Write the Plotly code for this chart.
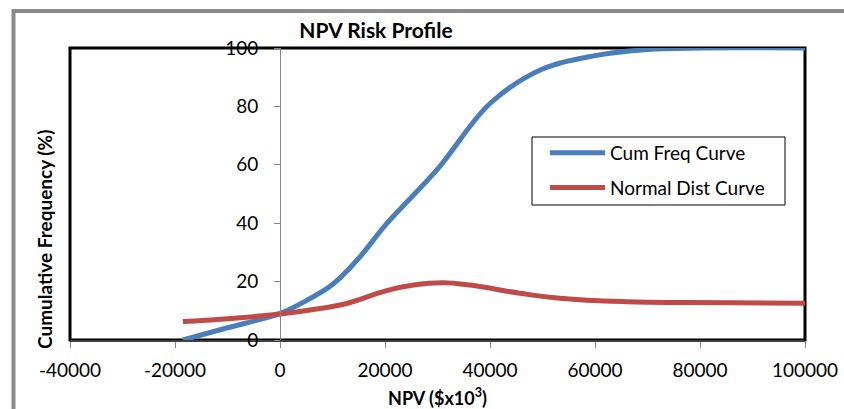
import plotly.graph_objects as go

# Data
npv_cum = [-18500, -10000, 0, 5000, 10000, 15000, 20000, 30000,
           40000, 50000, 60000, 70000, 80000, 100000]
cum_freq = [0, 4.2, 9.1, 13.5, 19, 28, 39.2, 58.5,
            81, 92.8, 97.4, 99.5, 100, 100]

npv_norm = [-18500, -10000, 0, 7600, 12700, 20300, 25400, 31100, 36200,
            45700, 53300, 66000, 78700, 100000]
norm_dist = [6.3, 7.3, 8.9, 10.8, 12.5, 16.9, 18.8, 19.6, 18.8,
             16.0, 14.3, 13.1, 12.8, 12.6]

x_ticks = [-40000, -20000, 0, 20000, 40000, 60000, 80000, 100000]
y_ticks = [0, 20, 40, 60, 80, 100]

FONT = "Lato"
BLUE = "#4a7ebb"
RED = "#be4b48"

fig = go.Figure()
fig.add_trace(go.Scatter(x=npv_cum, y=cum_freq, mode="lines", name="Cum Freq Curve",
                         line=dict(color=BLUE, width=5, shape="spline", smoothing=1.0),
                         legendgroup="a"))
fig.add_trace(go.Scatter(x=npv_norm, y=norm_dist, mode="lines", name="Normal Dist Curve",
                         line=dict(color=RED, width=5, shape="spline", smoothing=1.3),
                         legendgroup="b"))

L, R, T, B = 70, 39, 48, 69
W, H = 844, 409
pw, ph = W - L - R, H - T - B

def px_x(px):
    return (px - L) / pw

def px_y(py):
    return (H - B - py) / ph

fig.update_layout(
    width=W, height=H,
    margin=dict(l=L, r=R, t=T, b=B, autoexpand=False),
    paper_bgcolor="white", plot_bgcolor="white",
    font=dict(family=FONT, color="black", size=19),
    title=dict(text="<b>NPV Risk Profile</b>", x=376 / W, xanchor="center",
               y=1 - 31 / H, yanchor="middle", xref="container", yref="container",
               font=dict(family=FONT, size=21, color="black")),
    xaxis=dict(range=[-40000, 100000], tickvals=x_ticks, ticktext=[str(v) for v in x_ticks],
               automargin=False,
               showgrid=False, zeroline=False, showline=True, linecolor="#404040", linewidth=2,
               ticks="outside", ticklen=6, tickcolor="#868686", tickwidth=1,
               ticklabelstandoff=6,
               tickfont=dict(family=FONT, size=19, color="black"),
               title=dict(text="<b>NPV ($x10<sup>3</sup>)</b>", standoff=14,
                          font=dict(family=FONT, size=18, color="black"))),
    yaxis=dict(range=[0, 100], tickvals=y_ticks, anchor="free", position=40000 / 140000,
               automargin=False,
               showgrid=False, zeroline=False, showline=True, linecolor="#868686", linewidth=1,
               ticks="outside", ticklen=6, tickcolor="#868686", tickwidth=1,
               ticklabelstandoff=12,
               tickfont=dict(family=FONT, size=19, color="black")),
    legend=dict(x=px_x(545), y=px_y(134), xanchor="left", yanchor="top",
                bgcolor="rgba(0,0,0,0)", borderwidth=0,
                font=dict(family=FONT, size=19, color="black"),
                itemwidth=55, tracegroupgap=7, traceorder="grouped"),
    showlegend=True,
)

# plot area frame
fig.add_shape(type="rect", xref="paper", yref="paper", x0=0, x1=1, y0=0, y1=1,
              line=dict(color="black", width=3), layer="below")
# legend box
fig.add_shape(type="rect", xref="paper", yref="paper",
              x0=px_x(532), x1=px_x(785), y0=px_y(205), y1=px_y(137),
              line=dict(color="black", width=1), fillcolor="white", layer="above")
# outer chart border (gray, clipped by the image edges on right/bottom)
fig.add_shape(type="path", xref="paper", yref="paper",
              path=f"M {px_x(13.5)},{px_y(420)} L {px_x(13.5)},{px_y(11)} L {px_x(860)},{px_y(11)}",
              line=dict(color="#8a8a8a", width=4), layer="below")

fig.add_annotation(text="<b>Cumulative Frequency (%)</b>", textangle=-90,
                   xref="paper", yref="paper", x=px_x(44), y=px_y(240),
                   xanchor="center", yanchor="middle", showarrow=False,
                   font=dict(family=FONT, size=19, color="black"))

fig.write_html("out.html")
